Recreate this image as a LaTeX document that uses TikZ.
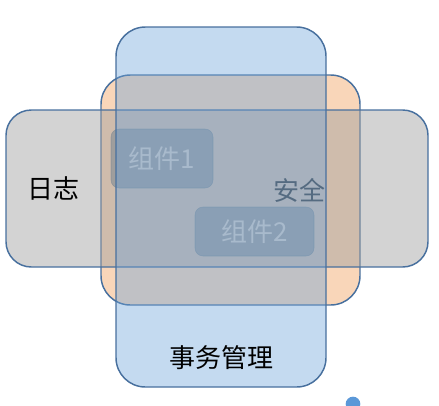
\documentclass[tikz,border=0pt]{standalone}
\usepackage{fontspec}
\setmainfont{Noto Sans CJK SC}
\usetikzlibrary{positioning}

\definecolor{edgeblue}{RGB}{72,112,158}
\definecolor{orangefill}{RGB}{249,214,185}
\definecolor{grayfill}{RGB}{158,158,158}
\definecolor{bluefill}{RGB}{107,162,217}
\definecolor{partfill}{RGB}{112,129,144}
\definecolor{parttext}{RGB}{210,202,196}
\definecolor{handleblue}{RGB}{91,152,216}

\begin{document}
\begin{tikzpicture}
        [
            x = 0.75pt, y = 0.75pt,
            area/.style     = {shape=rectangle, draw=edgeblue, line width=1.1pt, rounded corners=22pt},
            part/.style     = {shape=rectangle, draw=partfill, draw opacity=0.5, fill=partfill, fill opacity=0.5, rounded corners=6pt},
            tag/.style      = {inner sep=0pt, font=\fontsize{19.5pt}{21pt}\selectfont},
            % every node/.style = {draw}
        ]
        \useasboundingbox (0,0) rectangle (439,405);

        % security sits at the bottom
        \node [area, fill=orangefill, minimum width=194.25pt, minimum height=172.5pt] (security) at (230.5,215) {};
        \node [tag] (securitytext) at ([xshift=-45.75pt]security.east) {安全};

        % logging band across
        \node [area, fill=grayfill, fill opacity=0.45, rounded corners=19pt,
               minimum width=316.5pt, minimum height=117.75pt] (logging) at (217,216.5) {};
        \node [tag] (loggingtext) at ([xshift=36pt]logging.west) {日志};

        % components
        \node [part, minimum width=76.5pt, minimum height=44.25pt] (partone) at (162,246.5) {};
        \node [tag, text=parttext] (partonetext) at (partone) {组件1};
        \node [part, minimum width=89.25pt, minimum height=36.75pt] (parttwo) at (254.5,173.5) {};
        \node [tag, text=parttext] (parttwotext) at (parttwo) {组件2};

        % transaction on top
        \node [area, fill=bluefill, fill opacity=0.4, minimum width=157.5pt, minimum height=270pt] (transaction) at (221,198) {};
        \node [tag] (transactiontext) at ([yshift=22.5pt]transaction.south) {事务管理};

        \node [circle, fill=handleblue, inner sep=0pt, minimum size=11pt] (handle) at (353,1) {};
    \end{tikzpicture}
\end{document}
